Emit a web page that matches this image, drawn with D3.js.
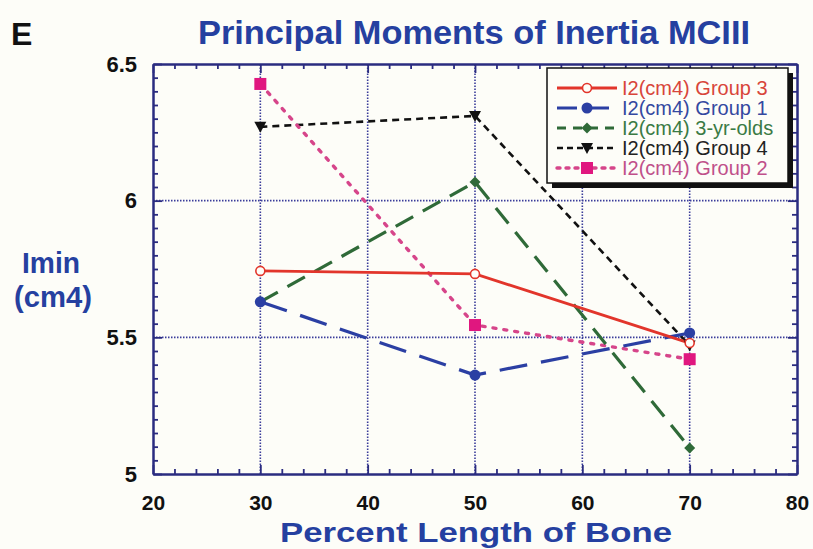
<!DOCTYPE html>
<html>
<head>
<meta charset="utf-8">
<script src="https://d3js.org/d3.v7.min.js"></script>
<style>
  html, body { margin: 0; padding: 0; background: #fdfdf8; }
  svg { display: block; }
  text { font-family: "Liberation Sans", Arial, sans-serif; }
</style>
</head>
<body>
<div id="chart"></div>
<script>
// Percent length positions along the bone
const positions = [30, 50, 70];

// Imin (cm4) per group at each position
const group3 = [5.743, 5.732, 5.479];
const group1 = [5.630, 5.362, 5.516];
const threeYrOlds = [5.630, 6.068, 5.095];
const group4 = [6.270, 6.310, 5.470];
const group2 = [6.427, 5.545, 5.420];

const seriesNames = ["I2(cm4) Group 3", "I2(cm4) Group 1", "I2(cm4) 3-yr-olds", "I2(cm4) Group 4", "I2(cm4) Group 2"];

const xTicks = [20, 30, 40, 50, 60, 70, 80];
const yTicks = [5, 5.5, 6, 6.5];
const xGrid = [30, 40, 50, 60, 70];
const yGrid = [5.5, 6];

const W = 813, H = 549;
const margin = { left: 153, right: 16, top: 64, bottom: 75 };

const svg = d3.select("#chart").append("svg")
  .attr("width", W).attr("height", H);

const x = d3.scaleLinear().domain([20, 80]).range([margin.left, W - margin.right]);
const y = d3.scaleLinear().domain([5, 6.5]).range([H - margin.bottom, margin.top]);

const axisColor = "#2b2c80";
const gridColor = "#3a3c9a";

// dotted grid
svg.append("g").selectAll("line.gx").data(xGrid).join("line")
  .attr("x1", d => x(d)).attr("x2", d => x(d))
  .attr("y1", y(5)).attr("y2", y(6.5))
  .attr("stroke", gridColor).attr("stroke-width", 1.6).attr("stroke-dasharray", "1.5,1.5");
svg.append("g").selectAll("line.gy").data(yGrid).join("line")
  .attr("x1", x(20)).attr("x2", x(80))
  .attr("y1", d => y(d)).attr("y2", d => y(d))
  .attr("stroke", gridColor).attr("stroke-width", 1.6).attr("stroke-dasharray", "1.5,1.5");

// axes with inward ticks (major + minor) on all four sides
const minorX = d3.range(20, 80.001, 2).filter(v => v % 10 !== 0);
const minorY = d3.range(5, 6.5001, 0.05).map(v => +v.toFixed(2)).filter(v => Math.abs(v * 2 - Math.round(v * 2)) > 1e-6);

function styleAxis(g) {
  g.select(".domain").attr("stroke", axisColor).attr("stroke-width", 2);
  g.selectAll(".tick line").attr("stroke", axisColor).attr("stroke-width", 1.8);
}

const bottomG = svg.append("g").attr("transform", `translate(0,${y(5)})`)
  .call(d3.axisBottom(x).tickValues(xTicks).tickSize(-9).tickSizeOuter(0).tickPadding(21).tickFormat(d3.format("d")));
styleAxis(bottomG);
bottomG.selectAll("text").attr("fill", "#111").attr("font-size", 21).attr("font-weight", "bold");
const bottomMinor = svg.append("g").attr("transform", `translate(0,${y(5)})`)
  .call(d3.axisBottom(x).tickValues(minorX).tickSize(-5).tickSizeOuter(0).tickFormat(""));
styleAxis(bottomMinor);

const topG = svg.append("g").attr("transform", `translate(0,${y(6.5)})`)
  .call(d3.axisTop(x).tickValues(xTicks).tickSize(-9).tickSizeOuter(0).tickFormat(""));
styleAxis(topG);
const topMinor = svg.append("g").attr("transform", `translate(0,${y(6.5)})`)
  .call(d3.axisTop(x).tickValues(minorX).tickSize(-5).tickSizeOuter(0).tickFormat(""));
styleAxis(topMinor);

const leftG = svg.append("g").attr("transform", `translate(${x(20)},0)`)
  .call(d3.axisLeft(y).tickValues(yTicks).tickSize(-9).tickSizeOuter(0).tickPadding(16).tickFormat(d => d === 5 || d === 6 ? d3.format("d")(d) : d3.format(".1f")(d)));
styleAxis(leftG);
leftG.selectAll("text").attr("fill", "#111").attr("font-size", 22).attr("font-weight", "bold");
const leftMinor = svg.append("g").attr("transform", `translate(${x(20)},0)`)
  .call(d3.axisLeft(y).tickValues(minorY).tickSize(-5).tickSizeOuter(0).tickFormat(""));
styleAxis(leftMinor);

const rightG = svg.append("g").attr("transform", `translate(${x(80)},0)`)
  .call(d3.axisRight(y).tickValues(yTicks).tickSize(-9).tickSizeOuter(0).tickFormat(""));
styleAxis(rightG);
const rightMinor = svg.append("g").attr("transform", `translate(${x(80)},0)`)
  .call(d3.axisRight(y).tickValues(minorY).tickSize(-5).tickSizeOuter(0).tickFormat(""));
styleAxis(rightMinor);

// series definitions
const series = [
  { name: seriesNames[3], values: group4, color: "#111111", dash: "7,5", width: 2.6, marker: "tri", textColor: "#222" },
  { name: seriesNames[4], values: group2, color: "#d6458a", dash: "3,8", width: 3.4, marker: "square", textColor: "#c0508a", cap: "round" },
  { name: seriesNames[2], values: threeYrOlds, color: "#2f6a38", dash: "20,11", width: 3.2, marker: "diamond", textColor: "#3a7a44" },
  { name: seriesNames[1], values: group1, color: "#2b3fa3", dash: "28,14", width: 3.2, marker: "dot", textColor: "#3448a0" },
  { name: seriesNames[0], values: group3, color: "#e2352b", dash: null, width: 2.8, marker: "circle", textColor: "#d8453a" }
];

const line = d3.line().x((d, i) => x(positions[i])).y(d => y(d));

function drawMarker(g, type, cx, cy, color) {
  if (type === "circle") {
    g.append("circle").attr("cx", cx).attr("cy", cy).attr("r", 4.5)
      .attr("fill", "#fdfdf8").attr("stroke", color).attr("stroke-width", 1.6);
  } else if (type === "dot") {
    g.append("circle").attr("cx", cx).attr("cy", cy).attr("r", 5.5).attr("fill", color);
  } else if (type === "square") {
    g.append("rect").attr("x", cx - 6).attr("y", cy - 6).attr("width", 12).attr("height", 12).attr("fill", "#e0177f");
  } else if (type === "diamond") {
    g.append("path").attr("d", `M${cx},${cy - 5.5}L${cx + 5.5},${cy}L${cx},${cy + 5.5}L${cx - 5.5},${cy}Z`).attr("fill", color);
  } else if (type === "tri") {
    g.append("path").attr("d", `M${cx - 6},${cy - 5}L${cx + 6},${cy - 5}L${cx},${cy + 6}Z`).attr("fill", color);
  }
}

const plot = svg.append("g");
series.forEach(s => {
  plot.append("path").datum(s.values)
    .attr("d", line)
    .attr("fill", "none")
    .attr("stroke", s.color)
    .attr("stroke-width", s.width)
    .attr("stroke-dasharray", s.dash)
    .attr("stroke-linecap", s.cap || "butt");
});
series.forEach(s => {
  s.values.forEach((v, i) => drawMarker(plot, s.marker, x(positions[i]), y(v), s.color));
});

// legend box with drop shadow
const lg = svg.append("g");
const lx = 547, ly = 68, lw = 241, lh = 115;
lg.append("rect").attr("x", lx + 5).attr("y", ly + 5).attr("width", lw).attr("height", lh).attr("fill", "#111");
lg.append("rect").attr("x", lx).attr("y", ly).attr("width", lw).attr("height", lh)
  .attr("fill", "#fdfdf8").attr("stroke", "#111").attr("stroke-width", 1.5);

const legendOrder = [seriesNames[0], seriesNames[1], seriesNames[2], seriesNames[3], seriesNames[4]];
legendOrder.forEach((name, k) => {
  const s = series.find(d => d.name === name);
  const yy = 88 + k * 20;
  lg.append("line").attr("x1", 557).attr("x2", 617).attr("y1", yy).attr("y2", yy)
    .attr("stroke", s.color).attr("stroke-width", s.width)
    .attr("stroke-dasharray", s.dash ? (s.marker === "dot" ? "20,12" : s.marker === "diamond" ? "9,7" : s.marker === "tri" ? "6,4" : "3,6") : null)
    .attr("stroke-linecap", s.cap || "butt");
  drawMarker(lg, s.marker, 587, yy, s.color);
  lg.append("text").attr("x", 622).attr("y", yy + 7)
    .attr("font-size", 20).attr("fill", s.textColor).text(name);
});

// titles
svg.append("text").attr("x", 11).attr("y", 45).attr("font-size", 32).attr("font-weight", "bold")
  .attr("fill", "#111").text("E");
svg.append("text").attr("x", 198).attr("y", 44).attr("font-size", 33).attr("font-weight", "bold")
  .attr("fill", "#2540a0").attr("textLength", 552).attr("lengthAdjust", "spacingAndGlyphs")
  .text("Principal Moments of Inertia MCIII");
svg.append("text").attr("x", 280).attr("y", 542).attr("font-size", 28).attr("font-weight", "bold")
  .attr("fill", "#2540a0").attr("textLength", 392).attr("lengthAdjust", "spacingAndGlyphs")
  .text("Percent Length of Bone");
svg.append("text").attr("x", 51).attr("y", 273).attr("text-anchor", "middle")
  .attr("font-size", 30).attr("font-weight", "bold").attr("fill", "#2540a0")
  .attr("textLength", 58).attr("lengthAdjust", "spacingAndGlyphs").text("Imin");
svg.append("text").attr("x", 53).attr("y", 307).attr("text-anchor", "middle")
  .attr("font-size", 30).attr("font-weight", "bold").attr("fill", "#2540a0")
  .attr("textLength", 78).attr("lengthAdjust", "spacingAndGlyphs").text("(cm4)");
</script>
</body>
</html>
